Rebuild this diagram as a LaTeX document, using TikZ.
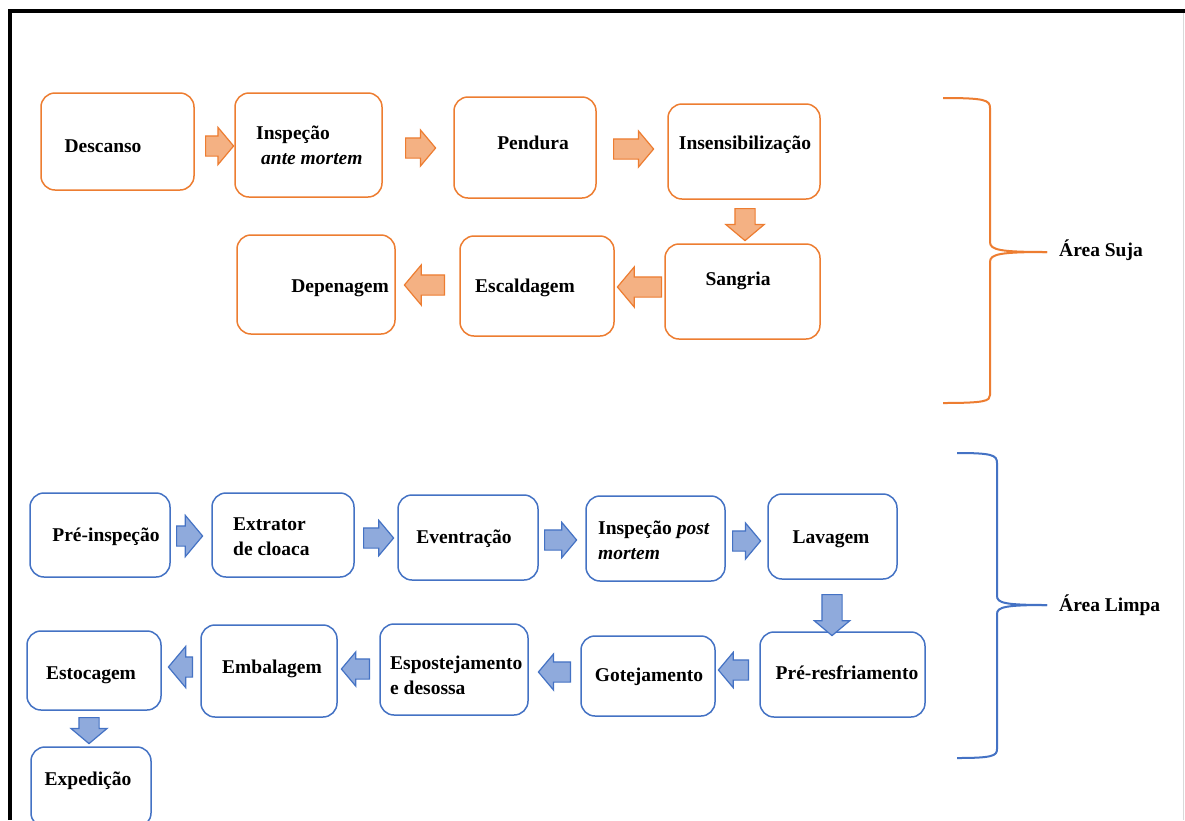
\documentclass[tikz,border=0pt]{standalone}
\usepackage{fontspec}
\setmainfont{Liberation Serif}
\usetikzlibrary{shapes.arrows}
\definecolor{org}{HTML}{ED7D31}
\definecolor{orgfill}{HTML}{F4B183}
\definecolor{blu}{HTML}{4472C4}
\definecolor{blufill}{HTML}{8FAADC}
\definecolor{frameg}{HTML}{D9D9D9}
\begin{document}
\begin{tikzpicture}[x=1pt,y=-1pt,
  box/.style={draw, rounded corners=14pt, line width=1.5pt, inner sep=0pt, fill=white},
  obox/.style={box, draw=org},
  bbox/.style={box, draw=blu},
  lbl/.style={inner sep=0pt, font=\fontsize{19.5}{25}\selectfont\bfseries, align=left},
  barr/.style={single arrow, anchor=tail, inner xsep=0pt, inner ysep=9.5pt, minimum width=0pt,
     single arrow tip angle=100, line width=1.2pt},
  oarr/.style={barr, draw=org, fill=orgfill},
  uarr/.style={barr, draw=blu, fill=blufill},
  brace/.style={line width=2pt}
]
\useasboundingbox (0,0) rectangle (1185,820);
\fill[white] (0,0) rectangle (1185,820);
% frame
\draw[frameg, line width=1pt] (1183,11) -- (1183,820);
\draw[black, line width=4pt] (10,820) -- (10,11) -- (1185,11);

% ---------- Area suja ----------
\node[obox, minimum width=153pt, minimum height=97pt] (b1) at (117.5,141.5) {};
\node[obox, minimum width=147pt, minimum height=104pt] (b2) at (308.5,145) {};
\node[obox, minimum width=142pt, minimum height=101pt] (b3) at (525,147.5) {};
\node[obox, minimum width=152pt, minimum height=95pt] (b4) at (744,151.5) {};
\node[obox, minimum width=155pt, minimum height=95pt] (b5) at (742.5,291.5) {};
\node[obox, minimum width=154pt, minimum height=100pt] (b6) at (537,286) {};
\node[obox, minimum width=158pt, minimum height=99pt] (b7) at (316,284.5) {};

\node[lbl] (t1) at (103,146) {Descanso};
\node[lbl, anchor=west] (t2) at (256,145) {Inspeção\\\hspace{5pt}\textit{ante mortem}};
\node[lbl] (t3) at (533,143) {Pendura};
\node[lbl] (t4) at (745,145) {Insensibilização};
\node[lbl] (t5) at (738,281) {Sangria};
\node[lbl] (t6) at (525,288) {Escaldagem};
\node[lbl] (t7) at (340,288) {Depenagem};

\node[oarr, minimum height=28pt, single arrow head extend=8.5pt] (a1) at (205,146) {};
\node[oarr, minimum height=30pt, single arrow head extend=8pt] (a2) at (405,148) {};
\node[oarr, minimum height=40pt, single arrow head extend=8pt] (a3) at (613,149) {};
\node[oarr, minimum height=32pt, single arrow head extend=9pt, rotate=-90] (a4) at (745,208) {};
\node[oarr, minimum height=44pt, single arrow head extend=10pt, rotate=180] (a5) at (662,287) {};
\node[oarr, minimum height=40pt, single arrow head extend=10pt, rotate=180] (a6) at (445,285) {};

\draw[org, brace] (943,98) .. controls (985,98) and (990,100) .. (990,108)
   -- (990,242) .. controls (990,250) and (1000,252) .. (1047,252) coordinate (ot);
\draw[org, brace] (ot) .. controls (1000,252) and (990,254) .. (990,262)
   -- (990,395) .. controls (990,401) and (985,403) .. (943,403);
\node[lbl, anchor=west] (as) at (1059,250) {Área Suja};

% ---------- Area limpa ----------
\node[bbox, minimum width=140pt, minimum height=84pt] (c1) at (100,535) {};
\node[bbox, minimum width=142pt, minimum height=84pt] (c2) at (283,535) {};
\node[bbox, minimum width=140pt, minimum height=85pt] (c3) at (468,537.5) {};
\node[bbox, minimum width=139pt, minimum height=85pt] (c4) at (655.5,538.5) {};
\node[bbox, minimum width=129pt, minimum height=85pt] (c5) at (832.5,536.5) {};
\node[bbox, minimum width=165pt, minimum height=85pt] (c6) at (842.5,674.5) {};
\node[bbox, minimum width=134pt, minimum height=80pt] (c7) at (648,676) {};
\node[bbox, minimum width=148pt, minimum height=91pt] (c8) at (454,669.5) {};
\node[bbox, minimum width=136pt, minimum height=92pt] (c9) at (269,671) {};
\node[bbox, minimum width=134pt, minimum height=79pt] (c10) at (94,670.5) {};
\node[bbox, minimum width=120pt, minimum height=80pt] (c11) at (91,787) {};

\node[lbl] (u1) at (106,537) {Pré-inspeção};
\node[lbl, anchor=west] (u2) at (233,536.5) {Extrator\\de cloaca};
\node[lbl] (u3) at (464,539) {Eventração};
\node[lbl, anchor=west] (u4) at (598,540.5) {Inspeção \textit{post}\\\textit{mortem}};
\node[lbl] (u5) at (831,539) {Lavagem};
\node[lbl] (u6) at (847,673) {Pré-resfriamento};
\node[lbl] (u7) at (649,677) {Gotejamento};
\node[lbl, anchor=west] (u8) at (390,675.5) {Espostejamento\\e desossa};
\node[lbl] (u9) at (272,669) {Embalagem};
\node[lbl] (u10) at (91,675) {Estocagem};
\node[lbl] (u11) at (88,781) {Expedição};

\node[uarr, minimum height=26pt, single arrow head extend=10.5pt] (d1) at (176,536) {};
\node[uarr, minimum height=30pt, single arrow head extend=7.5pt] (d2) at (363,538) {};
\node[uarr, minimum height=32pt, single arrow head extend=7.5pt] (d3) at (544,540) {};
\node[uarr, minimum height=28pt, single arrow head extend=8pt] (d4) at (732,541) {};
\node[uarr, minimum height=41pt, single arrow head extend=7.5pt, rotate=-90] (d5) at (832,594) {};
\node[uarr, minimum height=30pt, single arrow head extend=7.5pt, rotate=180] (d6) at (749,670) {};
\node[uarr, minimum height=32pt, single arrow head extend=8pt, rotate=180] (d7) at (571,672) {};
\node[uarr, minimum height=28pt, single arrow head extend=7pt, rotate=180] (d8) at (370,669) {};
\node[uarr, minimum height=24pt, single arrow head extend=10.5pt, rotate=180] (d9) at (193,667) {};
\node[uarr, minimum height=26pt, single arrow head extend=8pt, rotate=-90] (d10) at (89,717) {};

\draw[blu, brace] (957,453) .. controls (992,453) and (997,455) .. (997,463)
   -- (997,596) .. controls (997,603) and (1005,605) .. (1047,605) coordinate (bt);
\draw[blu, brace] (bt) .. controls (1005,605) and (997,607) .. (997,614)
   -- (997,749) .. controls (997,756) and (992,758) .. (957,758);
\node[lbl, anchor=west] (al) at (1059,605) {Área Limpa};
\end{tikzpicture}
\end{document}
